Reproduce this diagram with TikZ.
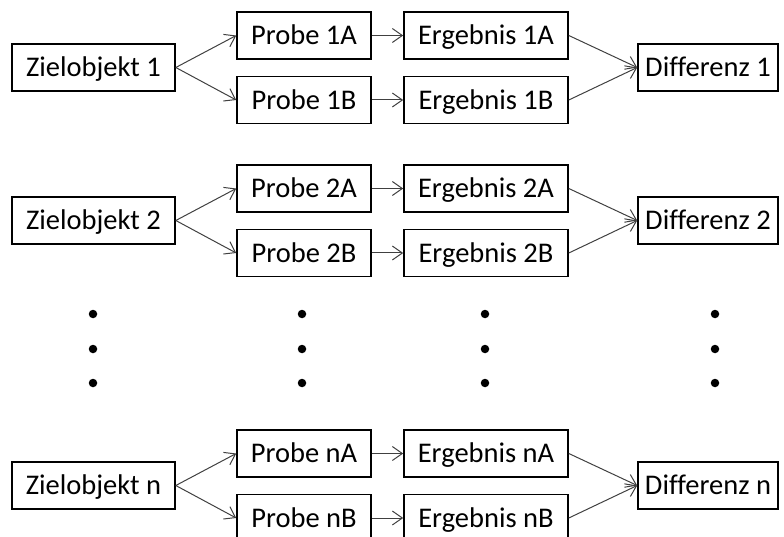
\documentclass[tikz,border=0pt]{standalone}
\usepackage{fontspec}
\setmainfont{Carlito}[Ligatures=CommonOff]
\usetikzlibrary{arrows.meta}
\tikzset{
  box/.style={draw=black, line width=1.6pt, minimum height=47pt, inner sep=0pt,
    text height=18.4pt, text depth=0pt,
    font=\fontsize{28.5}{32}\selectfont},
  zbox/.style={box, minimum width=163pt},
  pbox/.style={box, minimum width=134pt},
  ebox/.style={box, minimum width=164pt},
  dbox/.style={box, minimum width=140pt},
  link/.style={draw=black!75, line width=1pt, -{Straight Barb[length=10pt,width=14pt,line width=1pt]}},
  dot/.style={circle, fill=black, inner sep=0pt, minimum size=8.5pt}
}
\begin{document}
\begin{tikzpicture}[x=1pt,y=-1pt]
\useasboundingbox (0,0) rectangle (784,537);
\foreach \r/\dy in {1/0, 2/153, n/418}{
  \node[zbox] (z\r) at (93.5, 67.5+\dy) {Zielobjekt \r};
  \node[pbox] (pa\r) at (304, 35.5+\dy) {Probe \r A};
  \node[pbox] (pb\r) at (304, 100+\dy) {Probe \r B};
  \node[ebox] (ea\r) at (486, 35.5+\dy) {Ergebnis \r A};
  \node[ebox] (eb\r) at (486, 100+\dy) {Ergebnis \r B};
  \node[dbox] (d\r) at (708, 67.5+\dy) {Differenz \r};
  \draw[link] (z\r.east) -- (pa\r.west);
  \draw[link] (z\r.east) -- (pb\r.west);
  \draw[link] (pa\r.east) -- (ea\r.west);
  \draw[link] (pb\r.east) -- (eb\r.west);
  \draw[link] (ea\r.east) -- (d\r.west);
  \draw[link] (eb\r.east) -- (d\r.west);
}
% vertical ellipsis between row 2 and row n
\foreach \x [count=\c] in {93, 302, 485, 715}{
  \foreach \y [count=\k] in {314, 349, 383}{
    \node[dot] (dot\c\k) at (\x,\y) {};
  }
}
\end{tikzpicture}
\end{document}
